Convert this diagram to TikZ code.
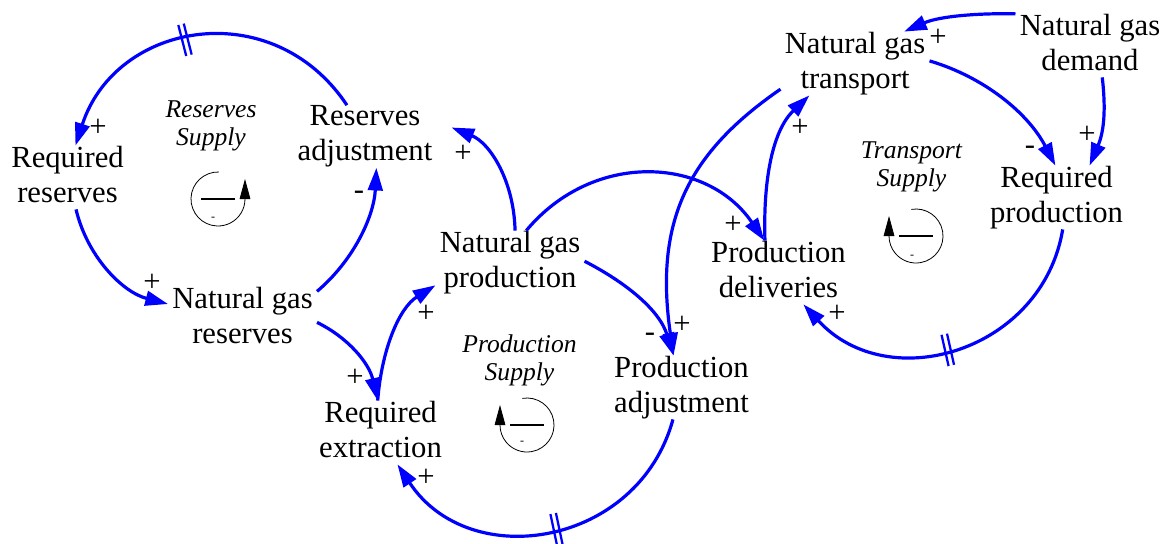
\documentclass[tikz,border=0pt]{standalone}
\usepackage{fontspec}
\setmainfont{Liberation Serif}
\usetikzlibrary{arrows.meta,decorations.markings}

\definecolor{linkblue}{RGB}{0,0,255}

% struts that set the first line a little lower inside each variable box
\newcommand{\topstrut}{\rule{0pt}{21pt}}
\newcommand{\botstrut}{\rule[-5.25pt]{0pt}{5.25pt}}

\tikzset{
  var/.style={align=center, inner xsep=3pt, inner ysep=0pt,
    font=\fontsize{23}{26.25}\selectfont,
    execute at begin node=\topstrut, execute at end node=\botstrut},
  looplabel/.style={align=center, inner sep=0pt,
    font=\itshape\fontsize{19.2}{21}\selectfont,
    execute at begin node=\strut, execute at end node=\strut},
  pol/.style={inner sep=0pt, font=\fontsize{23}{24}\selectfont},
  loopsign/.style={inner sep=0pt, font=\fontsize{9}{10}\selectfont},
  link/.style={draw=linkblue, line width=2.4pt,
    -{Triangle[length=17pt,width=11pt]}},
  delay/.style={postaction={decorate},
    decoration={markings, mark=at position #1 with {
      \draw[arrows=-, linkblue, line width=1.7pt]
        (-2.1pt,-12pt) -- (-2.1pt,12pt)
        (2.1pt,-12pt) -- (2.1pt,12pt);}}},
  loopline/.style={draw=black, line width=0.6pt,
    -{Triangle[length=15pt,width=8pt]}},
  loopbar/.style={draw=black, line width=2.2pt},
}

\begin{document}
\begin{tikzpicture}[x=0.75pt, y=-0.75pt]
\path[use as bounding box, fill=white] (0,0) rectangle (1170,543);

% variables
\node[var] (rres) at (67.5,177.5)  {Required\\reserves};
\node[var] (radj) at (365,136.5)   {Reserves\\adjustment};
\node[var] (ngr)  at (242.5,318.5) {Natural gas\\reserves};
\node[var] (ngp)  at (510,262.5)   {Natural gas\\production};
\node[var] (rext) at (380.5,432.5) {Required\\extraction};
\node[var] (padj) at (681.5,387.5) {Production\\adjustment};
\node[var] (pdel) at (778.5,272.5) {Production\\deliveries};
\node[var] (ngt)  at (855,63.5)    {Natural gas\\transport};
\node[var] (ngd)  at (1090,45.5)   {Natural gas\\demand};
\node[var] (rpro) at (1056.5,197.5){Required\\production};

% loop names
\node[looplabel] (lres) at (211,127.4)   {Reserves\\Supply};
\node[looplabel] (lpro) at (519.5,362)   {Production\\Supply};
\node[looplabel] (ltra) at (911.5,168.7) {Transport\\Supply};

% loop symbols
\coordinate (sres) at (218,199);
\coordinate (spro) at (527,425);
\coordinate (stra) at (916,236);
\draw[loopline] (sres) ++(88:20.25pt) arc[start angle=88, end angle=360, radius=20.25pt] -- ++(0pt,15pt);
\draw[loopbar] ([xshift=-12.75pt]sres) -- ([xshift=12.75pt]sres);
\node[loopsign] (mres) at (213,219) {-};
\draw[loopline] (spro) ++(100:20.25pt) arc[start angle=100, end angle=-180, radius=20.25pt] -- ++(0pt,15pt);
\draw[loopbar] ([xshift=-12.75pt]spro) -- ([xshift=12.75pt]spro);
\node[loopsign] (mpro) at (522,443) {-};
\draw[loopline] (stra) ++(100:20.25pt) arc[start angle=100, end angle=-180, radius=20.25pt] -- ++(0pt,15pt);
\draw[loopbar] ([xshift=-12.75pt]stra) -- ([xshift=12.75pt]stra);
\node[loopsign] (mtra) at (912,257) {-};

% causal links
\draw[link, delay=0.54] (radj.120) .. controls (273,-6) and (116,21) .. (rres.76);
\draw[link] (rres.-75) .. controls (87,256) and (122,292) .. (ngr.169);
\draw[link] (ngr.20) .. controls (354,260) and (374,216) .. (radj.-70);
\draw[link] (ngp.81) .. controls (514,181) and (490,143) .. ([xshift=11.25pt,yshift=6.75pt]radj.east);
\draw[link] (ngr.-3) .. controls (348,337.5) and (369,363) .. (rext.95);
\draw[link] (rext.95) .. controls (381.5,350) and (399,308) .. (ngp.197);
\draw[link, delay=0.48] (padj.-105) .. controls (638.5,546) and (470,574) .. (rext.-62);
\draw[link] (ngp.1) .. controls (624,281.5) and (659,309) .. (padj.104);
\draw[link] (ngt.-161) .. controls (688,153) and (654,221) .. (padj.104);
\draw[link] (ngp.63) .. controls (593,150.5) and (707,156.4) .. (pdel.114);
\draw[link] (pdel.113) .. controls (763,178) and (773,130) .. (ngt.-145);
\draw[link] (ngd.157) .. controls (980,13) and (940,16) .. (ngt.33);
\draw[link] (ngd.-69) .. controls (1106,110) and (1104,131.5) .. (rpro.44);
\draw[link] (ngt.2) .. controls (984,77) and (1028,113) .. (rpro.92);
\draw[link, delay=0.527] (rpro.-79) .. controls (1042.5,351) and (888.6,397.3) .. (pdel.-52);

% polarities
\node[pol] (p1)  at (98,128)   {+};
\node[pol] (p2)  at (152,283)  {+};
\node[pol] (p3)  at (359,195)  {-};
\node[pol] (p4)  at (463,154)  {+};
\node[pol] (p5)  at (355,378)  {+};
\node[pol] (p6)  at (426,314)  {+};
\node[pol] (p7)  at (426,478)  {+};
\node[pol] (p8)  at (650,337)  {-};
\node[pol] (p9)  at (682,325)  {+};
\node[pol] (p10) at (733,225)  {+};
\node[pol] (p11) at (800,128)  {+};
\node[pol] (p12) at (938,38)   {+};
\node[pol] (p13) at (1087,135) {+};
\node[pol] (p14) at (1030,150) {-};
\node[pol] (p15) at (837,314)  {+};
\end{tikzpicture}
\end{document}
